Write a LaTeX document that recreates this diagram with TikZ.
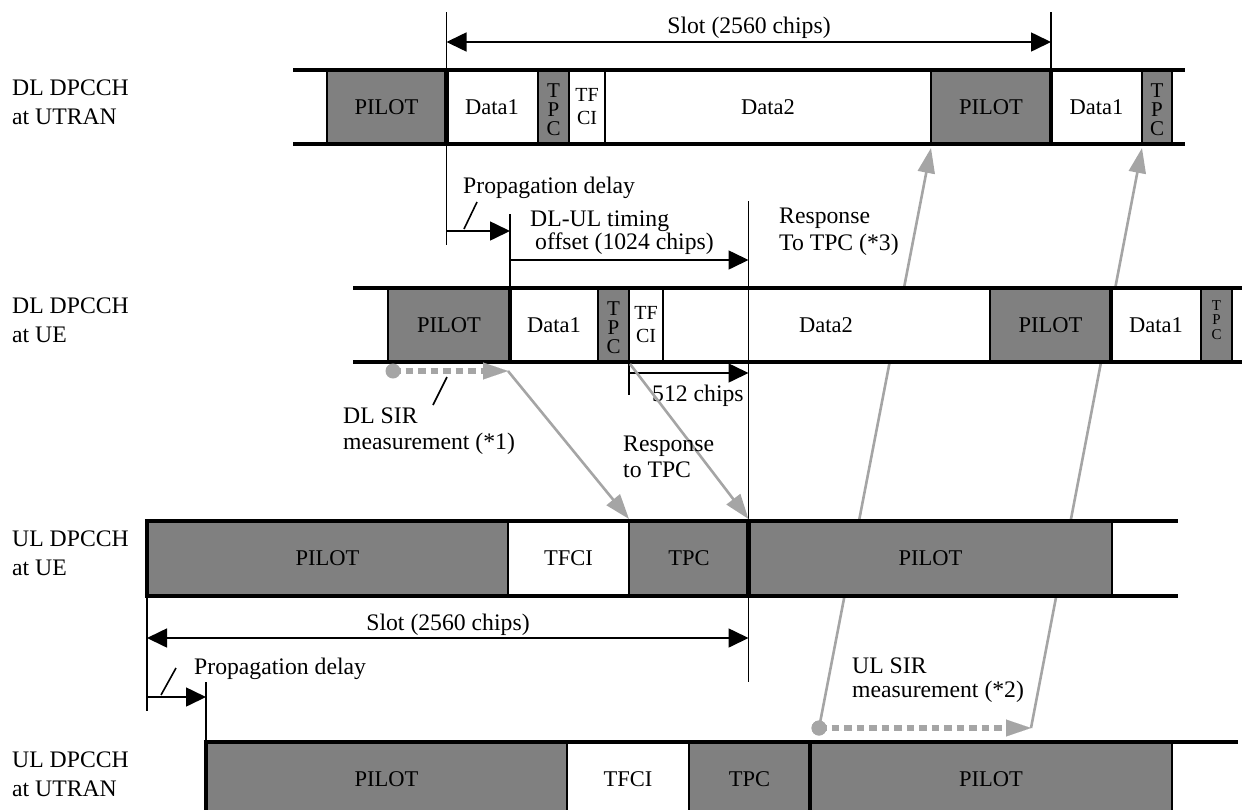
\documentclass[tikz,border=0pt]{standalone}
\usepackage{fontspec}
\setmainfont{Liberation Serif}
\usetikzlibrary{arrows.meta}
\definecolor{boxgray}{RGB}{128,128,128}
\definecolor{arrgray}{RGB}{165,165,165}
\begin{document}
\begin{tikzpicture}[x=1pt,y=-1pt,
 lab/.style={inner sep=0pt, font=\fontsize{23.7}{29}\selectfont},
 btxt/.style={inner sep=0pt, font=\fontsize{22.5}{27}\selectfont},
 tpcbig/.style={inner sep=0pt, align=center, font=\fontsize{21}{19}\selectfont},
 tpcsmall/.style={inner sep=0pt, align=center, font=\fontsize{15}{14.5}\selectfont},
 tfci/.style={inner sep=0pt, align=center, font=\fontsize{20}{23}\selectfont},
 rowline/.style={line width=4.5pt},
 divider/.style={line width=1.6pt},
 boundary/.style={line width=4.5pt},
 guide/.style={line width=1.6pt},
 dimboth/.style={line width=1.6pt, {Triangle[length=20pt,width=19pt]}-{Triangle[length=20pt,width=19pt]}},
 dimone/.style={line width=1.6pt, -{Triangle[length=20pt,width=19pt]}},
 graycon/.style={draw=arrgray, line width=2.6pt, -{Triangle[length=25pt,width=17pt]}},
 measline/.style={draw=arrgray, line width=6pt, dash pattern=on 7.5pt off 5pt, -{Triangle[length=25pt,width=17pt,line width=0.1pt]}},
 measdot/.style={circle, fill=arrgray, inner sep=0pt, minimum size=15pt},
]
\useasboundingbox (0,0) rectangle (1242,809);
\clip (0,0) rectangle (1242,809);

% ---------- connectors that pass behind the rows ----------
\node[measdot] (ulDot) at (819,728) {};
\coordinate (ulTip) at (1031,728);
\coordinate (dlPilotB) at (931,148);
\coordinate (dlTpcB) at (1142,148);
\draw[graycon] (ulDot.center) -- (dlPilotB);
\draw[graycon] (ulTip) -- (dlTpcB);

% ---------- Row 1: DL DPCCH at UTRAN ----------
\fill[white] (293,70) rectangle (1185,144);
\fill[boxgray] (327,70) rectangle (446.5,144);
\fill[boxgray] (538,70) rectangle (569,144);
\fill[boxgray] (931,70) rectangle (1051,144);
\fill[boxgray] (1142,70) rectangle (1172,144);
\foreach \x in {327,538,569,605,931,1142,1172} \draw[divider] (\x,70) -- (\x,144);
\draw[guide] (446.5,12) -- (446.5,245);
\draw[guide] (1051,12) -- (1051,70);
\draw[boundary] (446.5,70) -- (446.5,144);
\draw[boundary] (1051,70) -- (1051,144);
\draw[rowline] (293,70) -- (1185,70);
\draw[rowline] (293,144) -- (1185,144);
\node[btxt] (r1p1) at (386.5,107) {PILOT};
\node[btxt] (r1d1) at (492,107) {Data1};
\node[tpcbig] (r1t1) at (553.5,110) {T\\P\\C};
\node[tfci] (r1f1) at (587,107) {TF\\CI};
\node[btxt] (r1d2) at (768,107) {Data2};
\node[btxt] (r1p2) at (991,107) {PILOT};
\node[btxt] (r1d3) at (1096.5,107) {Data1};
\node[tpcbig] (r1t2) at (1157,110) {T\\P\\C};

% ---------- Row 2: DL DPCCH at UE ----------
\fill[white] (353,288) rectangle (1242,362);
\fill[boxgray] (388,288) rectangle (510,362);
\fill[boxgray] (598,288) rectangle (629,362);
\fill[boxgray] (990,288) rectangle (1111,362);
\fill[boxgray] (1201,288) rectangle (1232,362);
\foreach \x in {388,598,629,663,990,1201,1232} \draw[divider] (\x,288) -- (\x,362);
\draw[guide] (510,214) -- (510,288);
\draw[boundary] (510,288) -- (510,362);
\draw[boundary] (1111,288) -- (1111,362);
\draw[rowline] (353,288) -- (1242,288);
\draw[rowline] (353,362) -- (1242,362);
\node[btxt] (r2p1) at (449,325) {PILOT};
\node[btxt] (r2d1) at (554,325) {Data1};
\node[tpcbig] (r2t1) at (613.5,328) {T\\P\\C};
\node[tfci] (r2f1) at (646,325) {TF\\CI};
\node[btxt] (r2d2) at (826,325) {Data2};
\node[btxt] (r2p2) at (1050.5,325) {PILOT};
\node[btxt] (r2d3) at (1156,325) {Data1};
\node[tpcsmall] (r2t2) at (1216.5,320) {T\\P\\C};

% ---------- Row 3: UL DPCCH at UE ----------
\fill[white] (145,521) rectangle (1178,596);
\fill[boxgray] (147,521) rectangle (508,596);
\fill[boxgray] (629,521) rectangle (1112,596);
\foreach \x in {508,629,1112} \draw[divider] (\x,521) -- (\x,596);
\draw[guide] (147,596) -- (147,711);
\draw[boundary] (147,521) -- (147,596);
\draw[boundary] (748.5,521) -- (748.5,596);
\draw[rowline] (144.75,521) -- (1178,521);
\draw[rowline] (144.75,596) -- (1178,596);
\node[btxt] (r3p1) at (327.5,558) {PILOT};
\node[btxt] (r3f1) at (568.5,558) {TFCI};
\node[btxt] (r3t1) at (689,558) {TPC};
\node[btxt] (r3p2) at (930.5,558) {PILOT};

% ---------- Row 4: UL DPCCH at UTRAN ----------
\fill[white] (204,742) rectangle (1238,817);
\fill[boxgray] (206,742) rectangle (567,817);
\fill[boxgray] (689,742) rectangle (1172,817);
\foreach \x in {567,689,1172} \draw[divider] (\x,742) -- (\x,817);
\draw[guide] (206,682) -- (206,742);
\draw[boundary] (206,742) -- (206,817);
\draw[boundary] (810,742) -- (810,817);
\draw[rowline] (203.75,742) -- (1238,742);
\draw[rowline] (203.75,817) -- (1238,817);
\node[btxt] (r4p1) at (386.5,779) {PILOT};
\node[btxt] (r4f1) at (628,779) {TFCI};
\node[btxt] (r4t1) at (749.5,779) {TPC};
\node[btxt] (r4p2) at (991,779) {PILOT};

% ---------- guide through rows 2 and 3 ----------
\draw[guide] (748.5,201) -- (748.5,682);
\draw[guide] (629,362) -- (629,395);

% ---------- dimension arrows ----------
\coordinate (slotA) at (446.5,42);
\coordinate (slotB) at (1051,42);
\draw[dimboth] (slotA) -- (slotB);
\node[lab, anchor=base] (slotTop) at (749,33) {Slot (2560 chips)};

\coordinate (pdA) at (446.5,231);
\coordinate (pdB) at (510,231);
\draw[dimone] (pdA) -- (pdB);
\coordinate (pdTickA) at (464,229);
\coordinate (pdTickB) at (477,202);
\draw[guide] (pdTickA) -- (pdTickB);
\node[lab, anchor=base west] (pdTop) at (463,193) {Propagation delay};

\coordinate (offA) at (510,260);
\coordinate (offB) at (748.5,260);
\draw[dimone] (offA) -- (offB);
\node[lab, anchor=base west] (offL1) at (530,226) {DL-UL timing};
\node[lab, anchor=base west] (offL2) at (535,249) {offset (1024 chips)};

\coordinate (c512A) at (629,373);
\coordinate (c512B) at (748.5,373);
\draw[dimone] (c512A) -- (c512B);
\node[lab, anchor=base west] (c512) at (652,401) {512 chips};

\node[lab, anchor=base west] (resp3a) at (779,223) {Response};
\node[lab, anchor=base west] (resp3b) at (779,250) {To TPC (*3)};

\coordinate (slot2A) at (147,638);
\coordinate (slot2B) at (748.5,638);
\draw[dimboth] (slot2A) -- (slot2B);
\node[lab, anchor=base] (slotLow) at (448,630) {Slot (2560 chips)};

\coordinate (pd2A) at (147,697);
\coordinate (pd2B) at (206,697);
\draw[dimone] (pd2A) -- (pd2B);
\coordinate (pd2TickA) at (161,695);
\coordinate (pd2TickB) at (176,668);
\draw[guide] (pd2TickA) -- (pd2TickB);
\node[lab, anchor=base west] (pdLow) at (194,674) {Propagation delay};

% ---------- DL SIR measurement ----------
\node[measdot] (dlDot) at (393,371) {};
\coordinate (dlTip) at (508,371);
\draw[measline] (dlDot.center) -- (dlTip);
\coordinate (dlLeadA) at (447,377);
\coordinate (dlLeadB) at (433,405);
\draw[guide] (dlLeadA) -- (dlLeadB);
\node[lab, anchor=base west] (dlsir1) at (343,423) {DL SIR};
\node[lab, anchor=base west] (dlsir2) at (343,449) {measurement (*1)};

\coordinate (ulTpcTop) at (629,519);
\coordinate (ulPilotTop) at (748.5,519);
\coordinate (dlTpcEnd) at (630,364);
\draw[graycon] (dlTip) -- (ulTpcTop);
\draw[graycon] (dlTpcEnd) -- (ulPilotTop);
\node[lab, anchor=base west] (resp1) at (623,451) {Response};
\node[lab, anchor=base west] (resp2) at (623,477) {to TPC};

% ---------- UL SIR measurement ----------
\draw[measline] (ulDot.center) -- (ulTip);
\node[measdot] at (819,728) {};
\node[lab, anchor=base west] (ulsir1) at (852,673) {UL SIR};
\node[lab, anchor=base west] (ulsir2) at (852,697) {measurement (*2)};

% ---------- row labels ----------
\node[lab, anchor=base west] (l1a) at (12,95) {DL DPCCH};
\node[lab, anchor=base west] (l1b) at (12,124) {at UTRAN};
\node[lab, anchor=base west] (l2a) at (12,313) {DL DPCCH};
\node[lab, anchor=base west] (l2b) at (12,342) {at UE};
\node[lab, anchor=base west] (l3a) at (12,546) {UL DPCCH};
\node[lab, anchor=base west] (l3b) at (12,575) {at UE};
\node[lab, anchor=base west] (l4a) at (12,767) {UL DPCCH};
\node[lab, anchor=base west] (l4b) at (12,796) {at UTRAN};
\end{tikzpicture}
\end{document}
